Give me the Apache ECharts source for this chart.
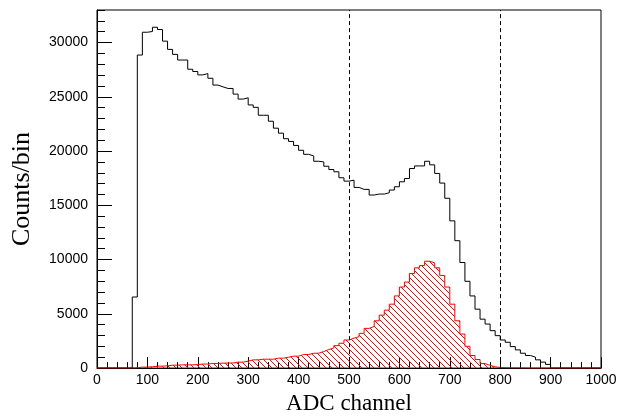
<!DOCTYPE html>
<html>
<head>
<meta charset="utf-8">
<script src="https://cdn.jsdelivr.net/npm/echarts@6/dist/echarts.min.js"></script>
<style>
  html, body { margin: 0; padding: 0; background: #fff; }
  #chart { width: 621px; height: 420px; }
</style>
</head>
<body>
<div id="chart"></div>
<script>
// Histogram definition: 100 bins of width 10 from 0 to 1000 (ADC channel)
const binLow = 0;
const binWidth = 10;
const nBins = 100;

// Black histogram: all events (counts per bin, bins 0..990)
const allCounts = [
  0, 0, 0, 0, 0, 0, 0,
  6550, 28850, 30950, 31020, 31410, 31200, 30130, 29370, 28910, 28390,
  28390, 27540, 27330, 27020, 27140, 26710, 26080, 25920, 25770, 25770,
  25250, 24790, 24910, 24250, 24030, 23300, 23300, 22750, 22110, 21650,
  21140, 20890, 20520, 20070, 19700, 19550, 19060, 19000, 18600, 18300,
  18090, 17540, 17230, 17320, 16650, 16470, 16470, 15950, 16040, 16040,
  16160, 16410, 16710, 17170, 17470, 18390, 18630, 18630, 19060, 18730,
  17940, 17050, 15650, 13570, 11740, 9730, 8000, 6650, 5430, 4510,
  4060, 3450, 2990, 2590, 2380, 1980, 1680, 1370, 1160, 1010,
  760, 550, 340,
  0, 0, 0, 0, 0, 0, 0, 0, 0, 0
];

// Red hatched histogram: selected events (counts per bin, bins 0..990)
const selCounts = [
  0, 0, 0, 0, 0, 0, 0,
  30, 90, 90, 120, 180, 180, 210, 270, 270, 300,
  300, 300, 330, 370, 370, 430, 430, 460, 460, 470,
  550, 550, 640, 760, 760, 820, 820, 820, 915, 915,
  1000, 1100, 1100, 1250, 1250, 1370, 1370, 1530, 1710, 1860,
  2070, 2290, 2590, 2760, 2900, 3200, 3660, 3840, 4360, 4880,
  5340, 5890, 6650, 7470, 7930, 8720, 9240, 9450, 9850, 9700,
  9240, 8540, 7470, 5890, 4360, 3140, 2010, 1160, 790, 420,
  250, 120, 60, 40, 30, 20, 15, 10,
  0, 0, 0, 0, 0, 0, 0, 0, 0, 0, 0, 0, 0, 0, 0
];

// Cut positions (dashed lines)
const cutLines = [500, 800];

// Axis range
const yMax = 33000;

function toSteps(counts) {
  const pts = counts.map((c, i) => [binLow + i * binWidth, c]);
  pts.push([binLow + nBins * binWidth, counts[counts.length - 1]]);
  return pts;
}

// hatch pattern (diagonal "\" lines)
function makeHatch() {
  const p = 6;
  const c = document.createElement('canvas');
  c.width = p; c.height = p;
  const ctx = c.getContext('2d');
  const img = ctx.createImageData(p, p);
  for (let y = 0; y < p; y++) {
    for (let x = 0; x < p; x++) {
      const d = ((x - y) % p + p) % p;
      let a = 0;
      if (d === 0) a = 255;
      const k = (y * p + x) * 4;
      img.data[k] = 255; img.data[k + 1] = 0; img.data[k + 2] = 0; img.data[k + 3] = a;
    }
  }
  ctx.putImageData(img, 0, 0);
  return c;
}

const chart = echarts.init(document.getElementById('chart'), null, { renderer: 'canvas' });

const labelFont = { color: '#000', fontFamily: 'Liberation Sans', fontSize: 14 };
const xTitleFont = { color: '#000', fontFamily: 'Liberation Serif', fontSize: 23 };
const yTitleFont = { color: '#000', fontFamily: 'Liberation Serif', fontSize: 26 };

chart.setOption({
  animation: false,
  backgroundColor: '#fff',
  grid: {
    left: 97, top: 10, width: 504, height: 361,
    show: true, borderColor: '#000', borderWidth: 1, backgroundColor: 'transparent'
  },
  xAxis: {
    type: 'value', min: 0, max: 1000, interval: 100,
    name: 'ADC channel', nameLocation: 'middle', nameGap: 20,
    nameTextStyle: xTitleFont,
    axisLine: { show: true, lineStyle: { color: '#000', width: 1 } },
    axisTick: { show: true, inside: true, length: 11, lineStyle: { color: '#000' } },
    minorTick: { show: true, splitNumber: 5, length: 6, lineStyle: { color: '#000' } },
    axisLabel: Object.assign({ margin: 5, formatter: v => String(v) }, labelFont),
    splitLine: { show: false }, minorSplitLine: { show: false }
  },
  yAxis: [
    {
      type: 'value', min: 0, max: yMax, interval: 5000,
      name: 'Counts/bin', nameLocation: 'middle', nameGap: 62,
      nameTextStyle: yTitleFont,
      axisLine: { show: true, lineStyle: { color: '#000', width: 1 } },
      axisTick: { show: true, inside: true, length: 15, lineStyle: { color: '#000' } },
      axisLabel: Object.assign({ margin: 9, showMaxLabel: false, formatter: v => String(v) }, labelFont),
      splitLine: { show: false }
    },
    {
      type: 'value', min: 0, max: yMax, interval: 1000, position: 'left', offset: 0,
      axisLine: { show: false },
      axisTick: { show: true, inside: true, length: 8, lineStyle: { color: '#000' } },
      axisLabel: { show: false },
      splitLine: { show: false }
    }
  ],
  series: [
    {
      type: 'line', step: 'end', data: toSteps(allCounts),
      showSymbol: false, symbol: 'none',
      lineStyle: { color: '#000', width: 1 },
      z: 3,
      markLine: {
        silent: true, symbol: ['none', 'none'], label: { show: false },
        lineStyle: { color: '#000', type: [4, 3], width: 1 },
        data: cutLines.map(v => ({ xAxis: v }))
      }
    },
    {
      type: 'line', step: 'end', data: toSteps(selCounts),
      showSymbol: false, symbol: 'none',
      lineStyle: { color: '#ff0000', width: 1 },
      areaStyle: { color: { image: makeHatch(), repeat: 'repeat' }, opacity: 1 },
      z: 4
    }
  ]
});
</script>
</body>
</html>
